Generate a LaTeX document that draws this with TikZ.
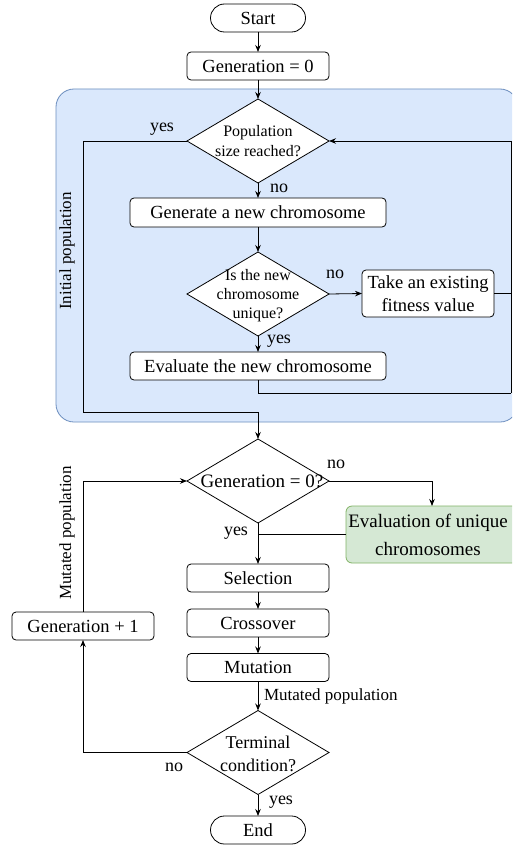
\documentclass[tikz,border=0pt]{standalone}
\usepackage{fontspec}
\setmainfont{Liberation Serif}
\usetikzlibrary{shapes.geometric,arrows.meta}
\definecolor{bluefill}{HTML}{DAE8FC}
\definecolor{blueline}{HTML}{6C8EBF}
\definecolor{greenfill}{HTML}{D5E8D4}
\definecolor{greenline}{HTML}{82B366}
\begin{document}
\begin{tikzpicture}[x=1pt,y=-1pt,
  every node/.style={inner sep=0pt,outer sep=0pt},
  mainfont/.style={font=\fontsize{18.5}{23}\selectfont},
  box/.style={draw,rounded corners=4pt,line width=0.8pt,fill=white,mainfont,align=center},
  term/.style={draw,rounded corners=14pt,line width=0.8pt,fill=white,minimum width=95pt,minimum height=28pt,mainfont},
  dia/.style={draw,diamond,fill=white,line width=0.8pt,minimum width=142pt,minimum height=84pt},
  diatext/.style={align=center},
  lbl/.style={font=\fontsize{18}{20}\selectfont},
  sidelbl/.style={font=\fontsize{17}{20}\selectfont,rotate=90},
  conn/.style={line width=0.8pt},
  arr/.style={conn,-{Stealth[length=7pt,width=5.5pt]}}
]
\useasboundingbox (0,0) rectangle (512,848);
\clip (0,0) rectangle (512,848);
\fill[white] (0,0) rectangle (512,848);

% region
\node[draw=blueline,fill=bluefill,rounded corners=18pt,line width=0.8pt,minimum width=462pt,minimum height=333pt] (reg) at (287,255.5) {};
\node[sidelbl] (reglbl) at (67,251) {Initial population};

% nodes
\node[term] (start) at (258,18) {Start};
\node[box,minimum width=142pt,minimum height=28pt] (gen0) at (258,66) {Generation = 0};
\node[dia] (d1) at (258,141) {};
\node[diatext,font=\fontsize{16}{20}\selectfont] (d1t) at (258,141) {Population\\size reached?};
\node[box,minimum width=256pt,minimum height=29pt] (gen) at (258,212.5) {Generate a new chromosome};
\node[dia] (d2) at (258,294) {};
\node[diatext,font=\fontsize{16}{19}\selectfont] (d2t) at (258,296) {Is the new\\chromosome\\unique?};
\node[box,minimum width=132pt,minimum height=47pt] (take) at (428,293.5) {Take an existing\\fitness value};
\node[box,minimum width=256pt,minimum height=28pt] (ev) at (258,366) {Evaluate the new chromosome};

\node[dia] (d3) at (258,481) {};
\node[diatext,font=\fontsize{19}{22}\selectfont] (d3t) at (262,481) {Generation = 0?};
\node[draw=greenline,fill=greenfill,rounded corners=6pt,line width=0.8pt,minimum width=180pt,minimum height=57pt] (green) at (436,534.5) {};
\node[align=center,font=\fontsize{19}{28}\selectfont] (greent) at (428,534.5) {Evaluation of unique\\chromosomes};
\node[box,minimum width=142pt,minimum height=28pt] (sel) at (258,578) {Selection};
\node[box,minimum width=142pt,minimum height=28pt] (cross) at (258,623) {Crossover};
\node[box,minimum width=142pt,minimum height=28pt] (mut) at (258,667.5) {Mutation};
\node[box,minimum width=142pt,minimum height=28pt] (gen1) at (83,626) {Generation + 1};
\node[dia] (d4) at (258,752.5) {};
\node[diatext,font=\fontsize{18}{23}\selectfont] (d4t) at (258,754) {Terminal\\condition?};
\node[term] (end) at (258,830) {End};
\node[sidelbl,fill=white,inner sep=1pt] (mutlbl) at (67,533) {Mutated population};

% coordinates
\coordinate (lc) at (83,412);
\coordinate (rtop) at (511,141);
\coordinate (rbot) at (511,393);
\coordinate (gx) at (432,0);

% connectors
\draw[arr] (start) -- (gen0);
\draw[arr] (gen0) -- (d1.north);
\draw[arr] (d1.south) -- (gen.north);
\draw[arr] (gen.south) -- (d2.north);
\draw[arr] (d2.east) -- (take.west);
\draw[arr] (d2.south) -- (ev.north);
\draw[conn] (take.east) -- (take.east -| rtop);
\draw[conn] (ev.south) |- (rbot);
\draw[arr] (rbot) -- (rtop) -- (d1.east);
\draw[arr] (d1.west) -| (lc) -| (d3.north);
\draw[arr] (d3.east) -| (green.north -| gx);
\draw[conn] (green.west) -- (green.west -| d3.south);
\draw[arr] (d3.south) -- (sel.north);
\draw[arr] (sel) -- (cross);
\draw[arr] (cross) -- (mut);
\draw[arr] (mut) -- (d4.north);
\draw[arr] (d4.west) -| (gen1.south);
\draw[arr] (gen1.north) |- (d3.west);
\draw[arr] (d4.south) -- (end.north);

% labels
\node[lbl] (y1) at (162,129) {yes};
\node[lbl] (n1) at (279,188) {no};
\node[lbl] (n2) at (335,274) {no};
\node[lbl] (y2) at (279,341) {yes};
\node[lbl] (n3) at (336,464) {no};
\node[lbl] (y3) at (236,533) {yes};
\node[font=\fontsize{17}{20}\selectfont,anchor=west] (mp) at (264,696) {Mutated population};
\node[lbl] (n4) at (174,767) {no};
\node[lbl] (y4) at (281,802) {yes};
\end{tikzpicture}
\end{document}
